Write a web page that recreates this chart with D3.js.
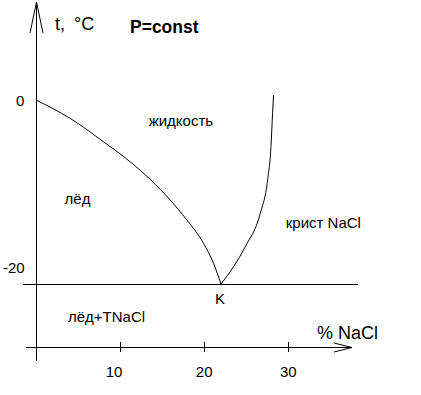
<!DOCTYPE html>
<html>
<head>
<meta charset="utf-8">
<script src="https://cdn.jsdelivr.net/npm/d3@7"></script>
<style>
  html, body { margin: 0; padding: 0; background: #fff; }
  svg { display: block; font-family: Arial, "Liberation Sans", sans-serif; }
  text { fill: #000; }
</style>
</head>
<body>
<svg id="chart" width="421" height="395"></svg>
<script>
// кривая льда: % NaCl -> t, °C
var iceX = [0, 4.05, 8.01, 11.19, 13.57, 15.95, 17.94, 19.92, 21.11, 22];
var iceT = [0, -1.99, -4.53, -6.71, -8.62, -10.87, -13.04, -15.58, -17.75, -20];

// кривая растворимости NaCl
var saltX = [22, 23.49, 24.88, 26.67, 27.54, 27.94, 28.13, 28.25];
var saltT = [-20, -18.12, -15.95, -12.32, -8.70, -5.07, -1.45, 0.54];

var xTicks = [10, 20, 30];
var yTicks = [0, -20];
var eutectic = { x: 22, t: -20, label: 'K' };

var regions = [
    { text: 'жидкость', x: 13.4, t: -2.85 },
    { text: 'лёд', x: 3.4, t: -11.3 },
    { text: 'крист NaCl', x: 29.7, t: -13.9 },
    { text: 'лёд+TNaCl', x: 3.8, t: -24.1 }
];

var svg = d3.select('#chart');

var x = d3.scaleLinear().domain([0, 30]).range([36, 288.3]);
var y = d3.scaleLinear().domain([0, -20]).range([100, 284]);

var g = svg.append('g');

// оси
g.append('line')
    .attr('x1', 36.5).attr('y1', 2).attr('x2', 36.5).attr('y2', 361)
    .attr('stroke', '#000').attr('shape-rendering', 'crispEdges');
g.append('path')
    .attr('d', 'M30,33L36.5,2L43,33')
    .attr('fill', 'none').attr('stroke', '#000');

var axisY = 347.5;
g.append('line')
    .attr('x1', 26).attr('y1', axisY).attr('x2', 352).attr('y2', axisY)
    .attr('stroke', '#000').attr('shape-rendering', 'crispEdges');
g.append('path')
    .attr('d', 'M334,343L352,' + axisY + 'L334,352')
    .attr('fill', 'none').attr('stroke', '#000');

g.selectAll('.xtick')
    .data(xTicks)
    .enter()
    .append('line')
    .attr('class', 'xtick')
    .attr('x1', function (d) { return Math.round(x(d)) + 0.5; })
    .attr('x2', function (d) { return Math.round(x(d)) + 0.5; })
    .attr('y1', 342).attr('y2', 352)
    .attr('stroke', '#000').attr('shape-rendering', 'crispEdges');

g.selectAll('.xlabel')
    .data(xTicks)
    .enter()
    .append('text')
    .attr('class', 'xlabel')
    .attr('x', function (d) { return x(d) - (d === 10 ? 6 : 0); })
    .attr('y', 377)
    .attr('text-anchor', 'middle')
    .attr('font-size', '15px')
    .text(function (d) { return d; });

// подписи температуры
g.selectAll('.ylabel')
    .data(yTicks)
    .enter()
    .append('text')
    .attr('class', 'ylabel')
    .attr('x', function (d) { return d === 0 ? 16 : 3; })
    .attr('y', function (d) { return d === 0 ? y(d) + 6 : y(d) - 11; })
    .attr('font-size', '15px')
    .text(function (d) { return d; });

// эвтектическая линия
g.append('line')
    .attr('x1', 23).attr('x2', 358)
    .attr('y1', Math.round(y(eutectic.t)) + 0.5).attr('y2', Math.round(y(eutectic.t)) + 0.5)
    .attr('stroke', '#000').attr('shape-rendering', 'crispEdges');

var line = d3.line()
    .x(function (d) { return x(d[0]); })
    .y(function (d) { return y(d[1]); })
    .curve(d3.curveMonotoneX);

g.append('path')
    .datum(d3.zip(iceX, iceT))
    .attr('d', line)
    .attr('fill', 'none').attr('stroke', '#000').attr('stroke-width', 1);

g.append('path')
    .datum(d3.zip(saltX, saltT))
    .attr('d', line)
    .attr('fill', 'none').attr('stroke', '#000').attr('stroke-width', 1);

// подписи
g.append('text')
    .attr('x', x(eutectic.x) - 6).attr('y', y(eutectic.t) + 20)
    .attr('font-size', '15px')
    .text(eutectic.label);

g.selectAll('.region')
    .data(regions)
    .enter()
    .append('text')
    .attr('class', 'region')
    .attr('x', function (d) { return x(d.x); })
    .attr('y', function (d) { return y(d.t); })
    .attr('font-size', '15px')
    .text(function (d) { return d.text; });

g.append('text')
    .attr('x', 55).attr('y', 30)
    .attr('font-size', '18px')
    .text('t,');
g.append('text')
    .attr('x', 74).attr('y', 30)
    .attr('font-size', '18px')
    .text('°C');
g.append('text')
    .attr('x', 130).attr('y', 32.5)
    .attr('font-size', '17.5px')
    .attr('font-weight', 'bold')
    .text('P=const');
g.append('text')
    .attr('x', 317).attr('y', 338.5)
    .attr('font-size', '18px')
    .text('% NaCl');
</script>
</body>
</html>
